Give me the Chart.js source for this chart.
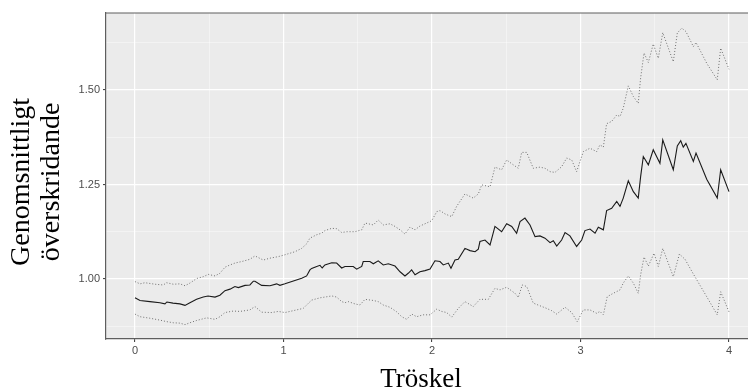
<!DOCTYPE html>
<html>
<head>
<meta charset="utf-8">
<script src="https://cdn.jsdelivr.net/npm/chart.js@4"></script>
<style>
html,body{margin:0;padding:0;background:#fff;overflow:hidden;}
canvas{display:block;}
</style>
</head>
<body>
<canvas id="c" width="748" height="391"></canvas>
<script>
// ---- data ----
const meanX = [0,0.034,0.101,0.168,0.202,0.215,0.256,0.303,0.337,0.370,0.415,0.460,0.492,0.539,0.572,0.606,0.640,0.673,0.696,0.741,0.774,0.797,0.808,0.853,0.909,0.954,0.976,1.010,1.077,1.123,1.156,1.178,1.190,1.224,1.246,1.261,1.279,1.325,1.358,1.392,1.414,1.470,1.493,1.527,1.537,1.582,1.605,1.638,1.672,1.706,1.751,1.785,1.818,1.840,1.863,1.886,1.919,1.953,1.987,2.020,2.054,2.076,2.110,2.128,2.155,2.177,2.222,2.256,2.290,2.312,2.323,2.357,2.391,2.424,2.469,2.503,2.537,2.570,2.593,2.626,2.660,2.694,2.727,2.761,2.795,2.817,2.840,2.873,2.896,2.929,2.974,3.008,3.030,3.064,3.098,3.120,3.154,3.176,3.210,3.244,3.266,3.288,3.322,3.356,3.389,3.405,3.423,3.457,3.490,3.535,3.554,3.625,3.652,3.675,3.692,3.710,3.760,3.778,3.850,3.921,3.944,4.000];
const meanY = [0.950,0.943,0.940,0.937,0.934,0.939,0.936,0.934,0.930,0.937,0.946,0.952,0.955,0.952,0.957,0.969,0.973,0.980,0.977,0.983,0.984,0.994,0.994,0.983,0.982,0.987,0.983,0.987,0.996,1.002,1.008,1.024,1.028,1.033,1.036,1.029,1.037,1.043,1.042,1.029,1.033,1.033,1.026,1.033,1.046,1.046,1.040,1.048,1.037,1.040,1.034,1.019,1.008,1.015,1.024,1.011,1.019,1.022,1.026,1.048,1.046,1.037,1.042,1.028,1.050,1.052,1.081,1.075,1.072,1.079,1.099,1.103,1.090,1.139,1.125,1.146,1.139,1.121,1.152,1.161,1.143,1.112,1.114,1.108,1.096,1.101,1.087,1.103,1.123,1.114,1.086,1.103,1.128,1.132,1.121,1.137,1.130,1.181,1.187,1.205,1.192,1.214,1.260,1.231,1.214,1.271,1.324,1.302,1.342,1.306,1.368,1.289,1.352,1.366,1.349,1.359,1.311,1.333,1.264,1.214,1.289,1.231];

const upperX = [0,0.034,0.067,0.135,0.191,0.213,0.258,0.303,0.337,0.370,0.415,0.460,0.494,0.539,0.572,0.606,0.640,0.673,0.707,0.719,0.774,0.808,0.864,0.909,0.965,1.010,1.077,1.123,1.156,1.178,1.224,1.257,1.279,1.325,1.358,1.392,1.426,1.481,1.527,1.549,1.605,1.638,1.672,1.717,1.751,1.785,1.818,1.852,1.886,1.919,1.964,1.998,2.032,2.054,2.088,2.133,2.166,2.222,2.278,2.312,2.335,2.391,2.424,2.469,2.503,2.537,2.581,2.604,2.638,2.682,2.727,2.761,2.795,2.828,2.873,2.907,2.941,2.974,3.019,3.064,3.109,3.131,3.154,3.176,3.210,3.244,3.266,3.288,3.322,3.356,3.389,3.405,3.428,3.457,3.490,3.524,3.554,3.625,3.652,3.682,3.710,3.760,3.778,3.850,3.921,3.944,4.000];
const upperY = [0.993,0.987,0.990,0.986,0.984,0.990,0.986,0.987,0.982,0.989,1.001,1.006,1.012,1.008,1.015,1.031,1.037,1.042,1.045,1.046,1.052,1.061,1.050,1.055,1.059,1.064,1.072,1.081,1.093,1.108,1.117,1.121,1.128,1.134,1.133,1.123,1.125,1.125,1.130,1.148,1.143,1.156,1.143,1.146,1.139,1.130,1.119,1.137,1.130,1.140,1.148,1.154,1.178,1.181,1.172,1.165,1.192,1.225,1.214,1.225,1.249,1.244,1.296,1.289,1.315,1.305,1.293,1.335,1.335,1.293,1.296,1.293,1.284,1.282,1.297,1.320,1.315,1.284,1.337,1.346,1.337,1.355,1.349,1.411,1.417,1.434,1.430,1.452,1.511,1.483,1.465,1.532,1.598,1.573,1.622,1.584,1.652,1.575,1.651,1.664,1.655,1.615,1.626,1.571,1.527,1.611,1.555];

const lowerX = [0,0.034,0.101,0.168,0.213,0.258,0.303,0.337,0.370,0.415,0.483,0.539,0.572,0.606,0.662,0.707,0.774,0.808,0.853,0.921,0.965,1.010,1.066,1.133,1.156,1.190,1.246,1.279,1.325,1.358,1.392,1.414,1.436,1.481,1.515,1.549,1.605,1.638,1.672,1.717,1.762,1.796,1.830,1.863,1.897,1.941,1.987,2.032,2.065,2.099,2.133,2.177,2.222,2.278,2.323,2.379,2.424,2.458,2.503,2.559,2.581,2.608,2.638,2.682,2.727,2.772,2.806,2.840,2.896,2.941,2.978,3.019,3.064,3.109,3.131,3.154,3.180,3.221,3.266,3.288,3.322,3.356,3.389,3.405,3.428,3.457,3.495,3.524,3.554,3.625,3.666,3.704,3.760,3.850,3.921,3.944,4.000];
const lowerY = [0.907,0.900,0.896,0.891,0.887,0.884,0.883,0.879,0.884,0.890,0.897,0.893,0.900,0.911,0.915,0.914,0.918,0.927,0.912,0.911,0.914,0.911,0.916,0.922,0.931,0.944,0.950,0.952,0.955,0.952,0.940,0.937,0.940,0.934,0.931,0.946,0.943,0.940,0.931,0.925,0.913,0.900,0.893,0.907,0.900,0.905,0.905,0.920,0.914,0.911,0.899,0.922,0.940,0.927,0.946,0.946,0.975,0.971,0.978,0.962,0.951,0.984,0.980,0.936,0.929,0.922,0.916,0.907,0.925,0.911,0.887,0.918,0.918,0.909,0.914,0.905,0.953,0.962,0.971,0.989,1.008,0.989,0.962,1.011,1.058,1.034,1.068,1.033,1.081,1.006,1.066,1.052,1.013,0.953,0.905,0.966,0.913];

const xMajorTicks = [0,1,2,3,4];
const xMinorTicks = [0.5,1.5,2.5,3.5];
const yMajorTicks = [1.00,1.25,1.50];
const yMinorTicks = [0.875,1.125,1.375,1.625];

const xTitle = 'Tröskel';
const yTitle = ['Genomsnittligt','överskridande'];

// ---- build ----
const pts = (xs, ys) => xs.map((x, i) => ({x: x, y: ys[i]}));
const isMajor = (list, v) => list.some(m => Math.abs(m - v) < 1e-9);

// shift an axis title slightly (ggplot centres titles a little differently)
function shiftTitle(scale, dx, dy) {
  if (!scale || scale._titleShifted) return;
  const orig = scale.drawTitle.bind(scale);
  scale.drawTitle = function () {
    const ctx = this.ctx;
    ctx.save();
    ctx.translate(dx, dy);
    orig();
    ctx.restore();
  };
  scale._titleShifted = true;
}

const panelPlugin = {
  id: 'panel',
  beforeDraw(chart) {
    shiftTitle(chart.scales.x, -6, 0);
    shiftTitle(chart.scales.y, 0, 6);
    const {ctx, chartArea: a} = chart;
    ctx.save();
    ctx.fillStyle = '#EBEBEB';
    ctx.fillRect(a.left, a.top, a.right - a.left, a.bottom - a.top);
    ctx.restore();
  },
  afterDraw(chart) {
    const {ctx, chartArea: a} = chart;
    ctx.save();
    ctx.strokeStyle = '#5E5E5E';
    ctx.lineWidth = 1.2;
    ctx.beginPath();
    ctx.moveTo(a.left, a.top);
    ctx.lineTo(a.right, a.top);
    ctx.stroke();
    ctx.restore();
  }
};

function gridOpts(majors) {
  return {
    drawOnChartArea: true,
    drawTicks: true,
    tickLength: 3,
    color: (c) => c.tick && isMajor(majors, c.tick.value) ? '#FFFFFF' : 'rgba(255,255,255,0.75)',
    lineWidth: (c) => c.tick && isMajor(majors, c.tick.value) ? 1.2 : 0.55,
    tickColor: (c) => c.tick && isMajor(majors, c.tick.value) ? '#333333' : 'rgba(0,0,0,0)',
    tickWidth: 1
  };
}

new Chart(document.getElementById('c'), {
  type: 'line',
  data: {
    datasets: [
      { label: 'upper', data: pts(upperX, upperY), borderColor: '#707070', borderWidth: 1, borderDash: [1, 2], pointRadius: 0, tension: 0, fill: false },
      { label: 'lower', data: pts(lowerX, lowerY), borderColor: '#707070', borderWidth: 1, borderDash: [1, 2], pointRadius: 0, tension: 0, fill: false },
      { label: 'mean', data: pts(meanX, meanY), borderColor: '#1A1A1A', borderWidth: 1.1, pointRadius: 0, tension: 0, fill: false }
    ]
  },
  options: {
    responsive: false,
    animation: false,
    devicePixelRatio: 1,
    layout: { padding: { top: 13, right: 0, bottom: 0, left: 0 } },
    plugins: { legend: { display: false }, tooltip: { enabled: false } },
    scales: {
      x: {
        type: 'linear',
        min: -0.195,
        max: 4.128,
        afterBuildTicks: (s) => { s.ticks = xMajorTicks.concat(xMinorTicks).sort((a,b)=>a-b).map(v => ({value: v})); },
        afterFit: (s) => { s.height = 52; },
        ticks: {
          autoSkip: false, maxRotation: 0, padding: 2,
          color: '#4D4D4D',
          font: { family: '"Liberation Sans", Arial, sans-serif', size: 11 },
          callback: (v) => isMajor(xMajorTicks, v) ? String(v) : ''
        },
        grid: gridOpts(xMajorTicks),
        border: { display: true, color: '#5E5E5E', width: 1.2 },
        title: {
          display: true, text: xTitle, color: '#000000',
          font: { family: '"Liberation Serif", "DejaVu Serif", serif', size: 27, lineHeight: 0.8 },
          padding: 0
        }
      },
      y: {
        type: 'linear',
        min: 0.841,
        max: 1.704,
        afterBuildTicks: (s) => { s.ticks = yMajorTicks.concat(yMinorTicks).sort((a,b)=>a-b).map(v => ({value: v})); },
        afterFit: (s) => { s.width = 106; },
        ticks: {
          autoSkip: false, padding: 3,
          color: '#4D4D4D',
          font: { family: '"Liberation Sans", Arial, sans-serif', size: 11 },
          callback: (v) => isMajor(yMajorTicks, v) ? v.toFixed(2) : ''
        },
        grid: gridOpts(yMajorTicks),
        border: { display: true, color: '#5E5E5E', width: 1.2 },
        title: {
          display: true, text: yTitle, color: '#000000',
          font: { family: '"Liberation Serif", "DejaVu Serif", serif', size: 28, lineHeight: 1.07 },
          padding: { top: 7, bottom: 0 }
        }
      }
    }
  },
  plugins: [panelPlugin]
});
</script>
</body>
</html>
